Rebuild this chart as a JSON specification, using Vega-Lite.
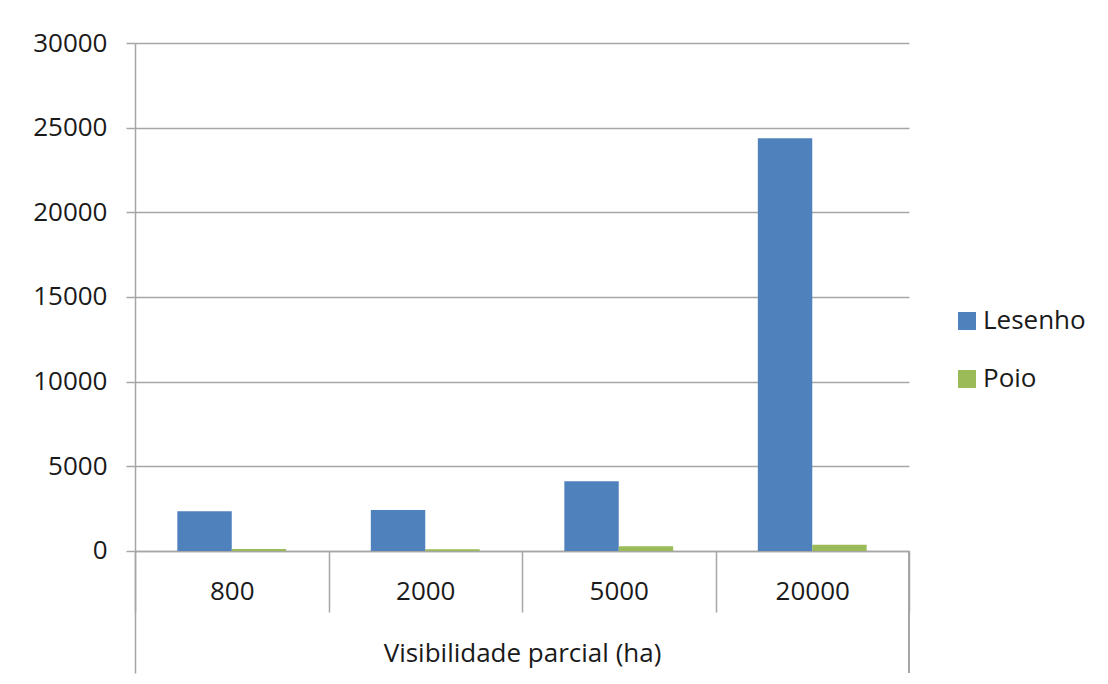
{
  "$schema": "https://vega.github.io/schema/vega-lite/v6.json",
  "autosize": "none",
  "width": 774,
  "height": 630,
  "padding": {"left": 135, "top": 43, "right": 199, "bottom": 11},
  "background": "white",
  "config": {
    "view": {"stroke": null},
    "font": "Open Sans",
    "axis": {"labelFont": "Open Sans", "titleFont": "Open Sans", "labelColor": "#1a1a1a", "titleColor": "#1a1a1a"}
  },
  "data": {
    "values": [
      {"area": "800", "local": "Lesenho", "valor": 2345},
      {"area": "800", "local": "Poio", "valor": 120},
      {"area": "2000", "local": "Lesenho", "valor": 2420},
      {"area": "2000", "local": "Poio", "valor": 110},
      {"area": "5000", "local": "Lesenho", "valor": 4115},
      {"area": "5000", "local": "Poio", "valor": 280},
      {"area": "20000", "local": "Lesenho", "valor": 24370},
      {"area": "20000", "local": "Poio", "valor": 370}
    ]
  },
  "layer": [
    {
      "mark": {"type": "bar"},
      "encoding": {
        "x": {
          "field": "area", "type": "nominal", "sort": ["800", "2000", "5000", "20000"],
          "scale": {"paddingInner": 0, "paddingOuter": 0},
          "axis": {
            "orient": "bottom", "offset": -122, "title": "Visibilidade parcial (ha)",
            "labelAngle": 0, "labelFontSize": 26, "labelBaseline": "middle", "labelPadding": -21,
            "tickBand": "extent", "tickSize": 61, "tickColor": "#a6a6a6", "tickWidth": 1.5,
            "domainColor": "#a6a6a6", "domainWidth": 1.5,
            "titleFontSize": 26, "titleFontWeight": "normal", "titlePadding": 28
          }
        },
        "xOffset": {"field": "local", "type": "nominal", "scale": {"paddingInner": 0, "paddingOuter": 0.778}},
        "y": {
          "field": "valor", "type": "quantitative",
          "scale": {"domain": [-7205, 30000], "nice": false, "zero": false},
          "axis": {
            "title": null, "values": [0, 5000, 10000, 15000, 20000, 25000, 30000],
            "grid": true, "gridColor": "#a6a6a6", "gridWidth": 1.5,
            "domainColor": "#a6a6a6", "domainWidth": 1.5,
            "tickColor": "#a6a6a6", "tickWidth": 1.5, "tickSize": 9,
            "labelFontSize": 26, "labelPadding": 19, "format": "d"
          }
        },
        "y2": {"datum": 0},
        "color": {
          "field": "local", "type": "nominal",
          "scale": {"domain": ["Lesenho", "Poio"], "range": ["#4F81BD", "#9BBB59"]},
          "legend": {
            "title": null, "orient": "none", "legendX": 819, "legendY": 265,
            "symbolType": "square", "symbolSize": 324, "symbolStrokeWidth": 0,
            "labelFontSize": 26, "labelFont": "Open Sans", "labelColor": "#1a1a1a", "labelOffset": 3,
            "rowPadding": 32, "padding": 0
          }
        }
      }
    },
    {
      "mark": {"type": "rule", "color": "#a6a6a6", "strokeWidth": 1.5},
      "encoding": {
        "x": {"datum": "20000", "type": "nominal", "bandPosition": 1},
        "y": {"datum": 0},
        "y2": {"datum": -7205}
      }
    }
  ]
}
